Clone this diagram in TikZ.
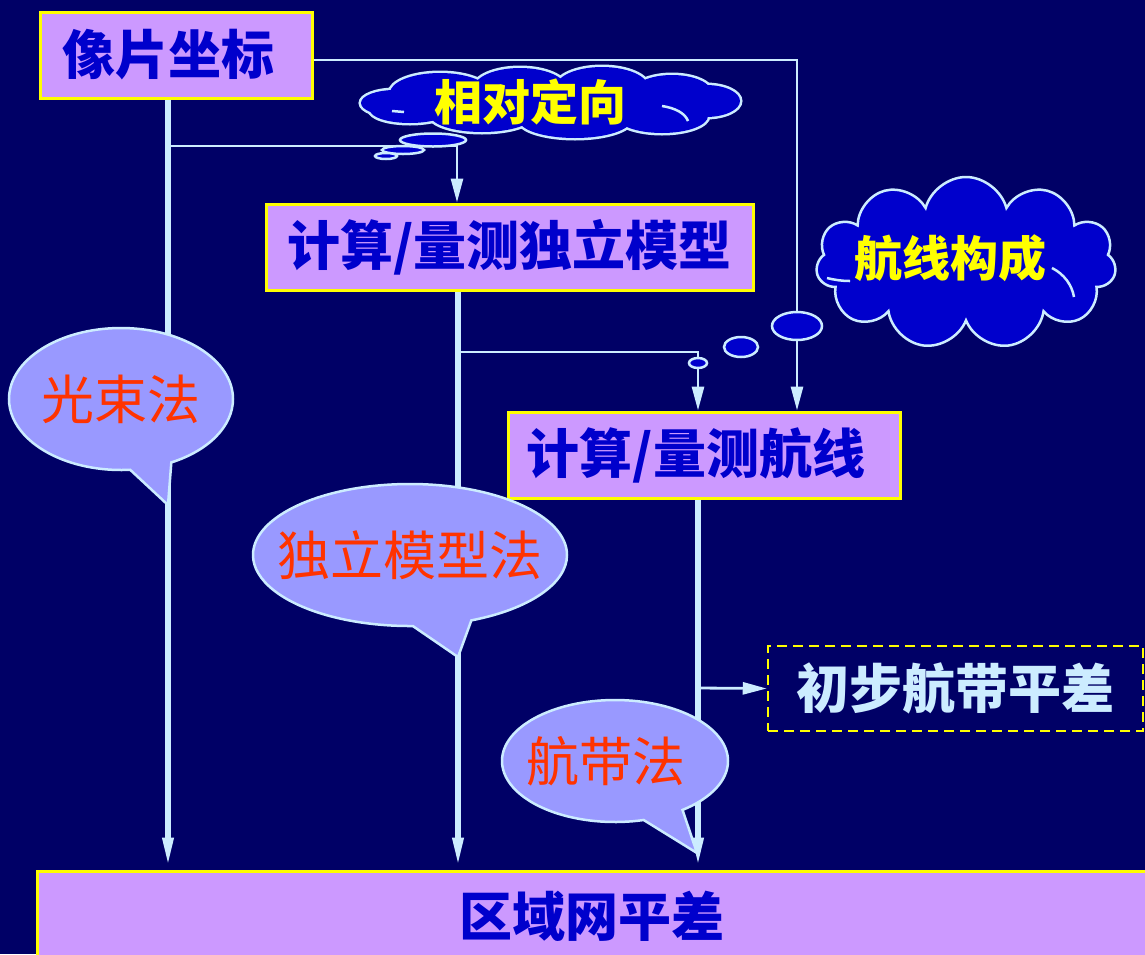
\documentclass[tikz,border=0pt]{standalone}
\usepackage{fontspec}
\newfontfamily\cjk{Noto Sans CJK SC}
\usetikzlibrary{arrows.meta,shapes.symbols,shapes.callouts,shapes.geometric,calc}
\definecolor{bgc}{HTML}{000066}
\definecolor{boxfill}{HTML}{CC99FF}
\definecolor{boxtext}{HTML}{0000CC}
\definecolor{ylw}{HTML}{FFFF00}
\definecolor{linec}{HTML}{CCECFF}
\definecolor{cloudc}{HTML}{0000CC}
\definecolor{callc}{HTML}{9999FF}
\definecolor{redt}{HTML}{FF3300}
\tikzset{
  boxnode/.style={draw=ylw, line width=3pt, fill=boxfill, text=boxtext, inner sep=0pt,
    font=\cjk\bfseries\fontsize{53}{60}\selectfont},
  dashbox/.style={draw=ylw, line width=2.5pt, dash pattern=on 10pt off 6pt, inner sep=0pt,
    text=linec, font=\cjk\bfseries\fontsize{53}{60}\selectfont},
  cloudnode/.style={cloud, cloud ignores aspect, draw=linec, line width=2.5pt, fill=cloudc, inner sep=0pt},
  cloudtext/.style={text=ylw, font=\cjk\bfseries\fontsize{48}{56}\selectfont},
  bubble/.style={ellipse, draw=linec, line width=2.5pt, fill=cloudc, inner sep=0pt},
  innerarc/.style={draw=linec, line width=2.5pt},
  callnode/.style={ellipse callout, draw=linec, line width=2.5pt, fill=callc, inner sep=0pt,
    text=redt, font=\cjk\fontsize{53}{60}\selectfont, callout pointer arc=22},
  thickline/.style={draw=linec, line width=6pt},
  thinline/.style={draw=linec, line width=2.8pt},
  arr/.style={-{Triangle[length=24pt,width=12pt]}},
  arrb/.style={-{Triangle[length=32pt,width=10pt]}},
}
\begin{document}
\begin{tikzpicture}[x=1pt,y=-1pt]
\useasboundingbox (0,0) rectangle (1145,954);
\fill[bgc] (0,0) rectangle (1145,954);

% nodes (boxes)
\node[boxnode, minimum width=272pt, minimum height=86pt] (coords) at (176,55) {像片坐标\hspace*{16pt}};
\node[boxnode, minimum width=487pt, minimum height=86pt] (model) at (509.5,247) {计算/量测独立模型};
\node[boxnode, minimum width=392pt, minimum height=86pt] (route) at (704,455) {计算/量测航线\hspace*{16pt}};
\node[dashbox, minimum width=375pt, minimum height=85pt] (prelim) at (955.5,688.5) {初步航带平差};
\node[boxnode, minimum width=1110pt, minimum height=90pt] (block) at (592,916) {区域网平差};

% junction coordinates
\coordinate (jTop) at (797,60);
\coordinate (jL) at (168,146);
\coordinate (jL2) at (457,146);
\coordinate (jM) at (458,352);
\coordinate (jR) at (698,688);

% connectors
\draw[thickline, arrb] (coords.south -| jL) -- (block.north -| jL);
\draw[thinline, arr] (jL) -- (jL2) -- (jL2 |- model.north);
\draw[thinline, arr] (coords.east |- jTop) -- (jTop) -- (jTop |- route.north);
\draw[thickline, arrb] (model.south -| jM) -- (block.north -| jM);
\draw[thinline, arr] (jM) -- (jM -| jR) -- (jR |- route.north);
\draw[thickline, arrb] (route.south -| jR) -- (block.north -| jR);
\draw[thinline, arr] (jR) -- (prelim.west);

% cloud 1 (union of ellipses)
\def\cloudA{
  \path (395,103) ellipse [x radius=34, y radius=13];
  \path (440,93) ellipse [x radius=50, y radius=20];
  \path (520,88) ellipse [x radius=46, y radius=20];
  \path (602,87) ellipse [x radius=46, y radius=20];
  \path (672,93) ellipse [x radius=40, y radius=18];
  \path (706,101) ellipse [x radius=34, y radius=16];
  \path (662,116) ellipse [x radius=46, y radius=17];
  \path (575,120) ellipse [x radius=56, y radius=18];
  \path (482,115) ellipse [x radius=52, y radius=17];
  \path (410,110) ellipse [x radius=40, y radius=13];
  \path (550,102) ellipse [x radius=150, y radius=22];
}
\begin{scope}[every path/.style={draw=linec, line width=5pt}]
  \cloudA
\end{scope}
\begin{scope}[every path/.style={fill=cloudc}]
  \cloudA
\end{scope}
\draw[innerarc] (662,106) .. controls (675,108) and (685,113) .. (688,121);
\draw[innerarc] (392,111) -- (404,112);
\node[cloudtext] (c1t) at (530,102) {相对定向};
\node[bubble, minimum width=66pt, minimum height=13pt] (b11) at (433,140) {};
\node[bubble, minimum width=42pt, minimum height=8pt] (b12) at (403,150) {};
\node[bubble, minimum width=22pt, minimum height=6pt] (b13) at (386,156) {};

% cloud 2
\node[cloudnode, cloud puffs=11, minimum width=300pt, minimum height=172pt] (c2) at (966,263) {};
\draw[innerarc] (1052,268) .. controls (1064,274) and (1072,285) .. (1074,297);
\draw[innerarc] (827,278) .. controls (835,280) and (842,281) .. (850,281);
\node[cloudtext] (c2t) at (950,258) {航线构成};
\node[bubble, minimum width=50pt, minimum height=28pt] (b21) at (797,326) {};
\node[bubble, minimum width=34pt, minimum height=20pt] (b22) at (741,347) {};
\node[bubble, minimum width=18pt, minimum height=10pt] (b23) at (698,363) {};

% callouts
\node[callnode, minimum width=224pt, minimum height=142pt, callout absolute pointer={(168,505)}] (k1) at (121,399) {\makebox[0pt]{\raisebox{-6pt}{光束法}}};
\node[callnode, minimum width=314pt, minimum height=142pt, callout absolute pointer={(458,657)}] (k2) at (410,555) {\makebox[0pt]{\raisebox{-2pt}{独立模型法}}};
\node[callnode, minimum width=226pt, minimum height=122pt, callout absolute pointer={(697,853)}] (k3) at (615,761) {\makebox[0pt]{\hspace*{-18pt}\raisebox{-4pt}{航带法}}};
\end{tikzpicture}
\end{document}
